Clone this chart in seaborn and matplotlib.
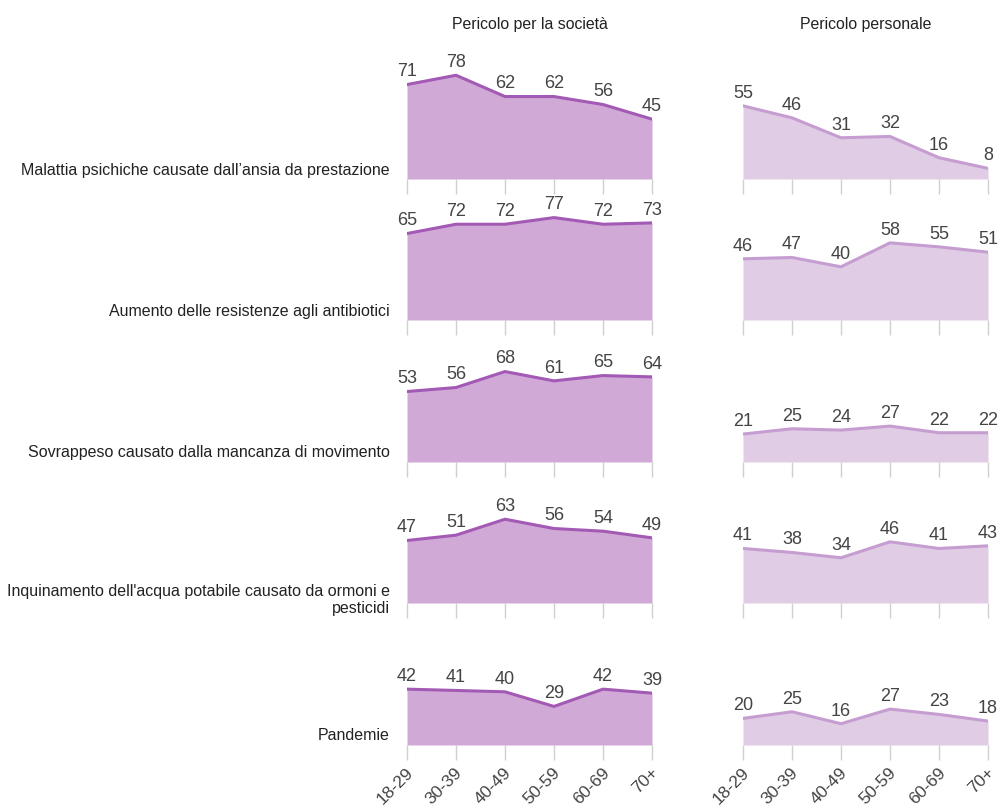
import numpy as np
import pandas as pd
import matplotlib
matplotlib.use("Agg")
import matplotlib.pyplot as plt
import matplotlib.transforms as mtransforms
import seaborn as sns

# ── Data ─────────────────────────────────────────────────────────────────────
AGE_GROUPS = ["18-29", "30-39", "40-49", "50-59", "60-69", "70+"]
TOPICS = [
    "Malattia psichiche causate dall\u2019ansia da prestazione",
    "Aumento delle resistenze agli antibiotici",
    "Sovrappeso causato dalla mancanza di movimento",
    "Inquinamento dell'acqua potabile causato da ormoni e\npesticidi",
    "Pandemie",
]
PANELS = ["Pericolo per la società", "Pericolo personale"]

society = [
    [71, 78, 62, 62, 56, 45],
    [65, 72, 72, 77, 72, 73],
    [53, 56, 68, 61, 65, 64],
    [47, 51, 63, 56, 54, 49],
    [42, 41, 40, 29, 42, 39],
]
personal = [
    [55, 46, 31, 32, 16, 8],
    [46, 47, 40, 58, 55, 51],
    [21, 25, 24, 27, 22, 22],
    [41, 38, 34, 46, 41, 43],
    [20, 25, 16, 27, 23, 18],
]

records = []
for panel, values in zip(PANELS, [society, personal]):
    for topic, row in zip(TOPICS, values):
        for i, (age, v) in enumerate(zip(AGE_GROUPS, row)):
            records.append({"panel": panel, "topic": topic, "age": age, "pos": i, "value": v})
df = pd.DataFrame(records)

# ── Style ────────────────────────────────────────────────────────────────────
sns.set_style("white")
plt.rcParams["font.family"] = ["Liberation Sans", "DejaVu Sans"]
TEXT = "#444444"
LINE_COLORS = {PANELS[0]: "#a35ab5", PANELS[1]: "#c69dd1"}
FILL_COLORS = {PANELS[0]: "#d1a9d6", PANELS[1]: "#e0cce4"}

W, H = 999, 809
fig = plt.figure(figsize=(W / 100, H / 100), dpi=100)

col_left = [407, 743]
col_width = 245
baselines = [179, 320, 462, 603, 745]
ax_height = 133

for c, panel in enumerate(PANELS):
    for r, topic in enumerate(TOPICS):
        base = baselines[r]
        ax = fig.add_axes([col_left[c] / W, 1 - base / H, col_width / W, ax_height / H])
        sub = df[(df["panel"] == panel) & (df["topic"] == topic)]
        ax.fill_between(sub["pos"], 0, sub["value"], color=FILL_COLORS[panel], lw=0)
        sns.lineplot(data=sub, x="pos", y="value", ax=ax, color=LINE_COLORS[panel],
                     linewidth=2.2, legend=False)
        for x, v in zip(sub["pos"], sub["value"]):
            ax.annotate(f"{v}", (x, v), xytext=(0, 3), textcoords="offset points",
                        ha="center", va="bottom", fontsize=13, color=TEXT)
        ax.set_xlim(0, len(AGE_GROUPS) - 1)
        ax.set_ylim(0, 100)
        ax.set_xlabel("")
        ax.set_ylabel("")
        ax.set_yticks([])
        ax.set_xticks(range(len(AGE_GROUPS)))
        sns.despine(ax=ax, left=True, bottom=True)
        ax.tick_params(axis="x", bottom=True, length=11, width=1, color="#d0d0d0",
                       direction="out", pad=7)
        if r == len(TOPICS) - 1:
            ax.set_xticklabels(AGE_GROUPS, rotation=45, ha="right", va="center",
                               rotation_mode="anchor", fontsize=12.5, color=TEXT)
            shift = mtransforms.ScaledTranslation(4 / 100, 0, fig.dpi_scale_trans)
            for lbl in ax.get_xticklabels():
                lbl.set_transform(lbl.get_transform() + shift)
        else:
            ax.set_xticklabels([])
        ax.patch.set_alpha(0)

# column titles
for c, panel in enumerate(PANELS):
    fig.text((col_left[c] + col_width / 2) / W, 1 - 25 / H, panel,
             ha="center", va="center", fontsize=11.4, color="#222222")

# row labels
for r, topic in enumerate(TOPICS):
    nlines = topic.count("\n") + 1
    y = baselines[r] - 9 + 6 * (nlines - 1)
    fig.text(390 / W, 1 - y / H, topic, ha="right", va="center",
             fontsize=11.5, color="#222222", linespacing=1.15)

fig.savefig("out.png", dpi=100)
